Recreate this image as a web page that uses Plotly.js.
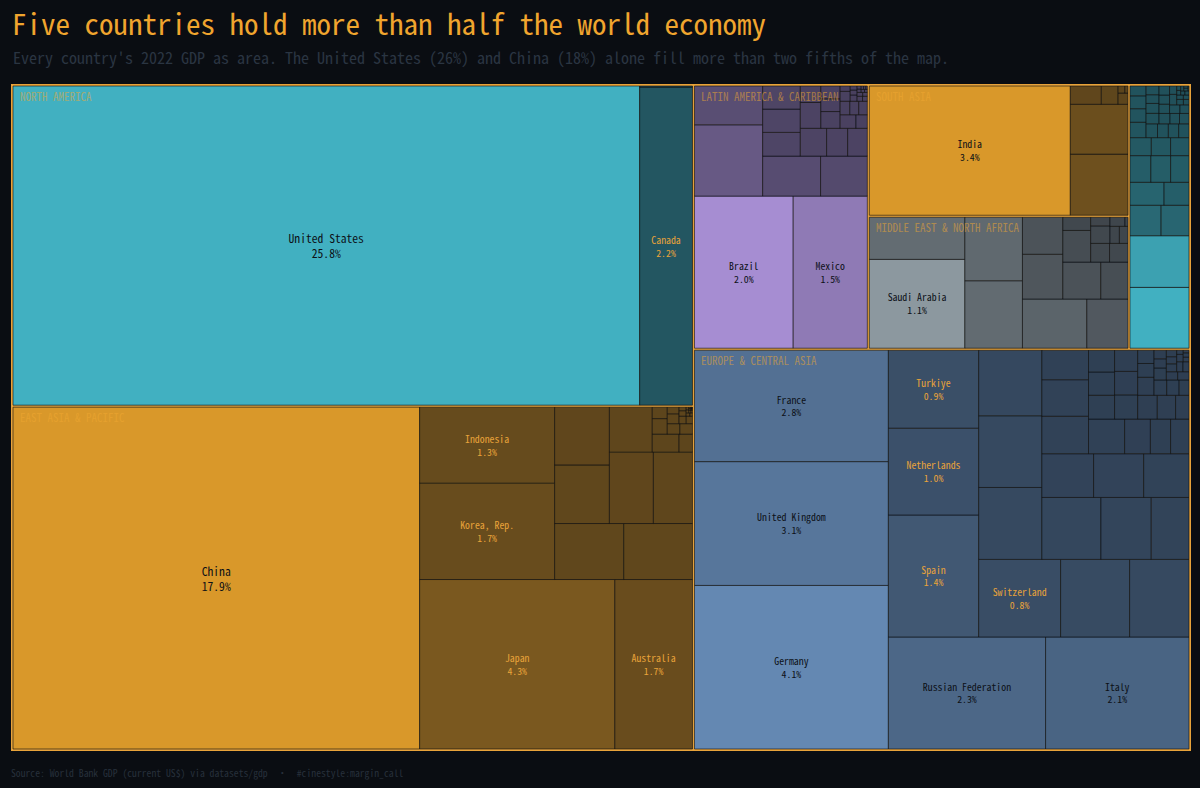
<!DOCTYPE html>
<html>
<head>
<meta charset="utf-8">
<script src="https://cdn.plot.ly/plotly-3.0.1.min.js"></script>
<style>
  html, body { margin: 0; padding: 0; background: #0a0d12; }
  #chart { width: 1200px; height: 788px; }
</style>
</head>
<body>
<div id="chart"></div>
<script>
// ---- DATA: 2022 GDP, current US$ billions (World Bank) ----
const regionNames = ["North America", "East Asia & Pacific", "Europe & Central Asia",
  "Latin America & Caribbean", "South Asia", "Middle East & North Africa", "Sub-Saharan Africa"];
const regionBase = ["#41b0c1", "#d9982a", "#6488b2", "#a68dd2", "#d9982a", "#8c989f", "#41b0c1"];

const naNames = ["United States", "Canada", "Bermuda"];
const naGdp = [25744, 2162, 7.5];

const eapNames = ["China", "Japan", "Australia", "Korea, Rep.", "Indonesia", "Singapore", "Thailand",
  "Viet Nam", "Malaysia", "Philippines", "Hong Kong SAR, China", "New Zealand", "Myanmar",
  "Papua New Guinea", "Cambodia", "Macao SAR, China", "Mongolia", "Brunei Darussalam", "Lao PDR",
  "New Caledonia", "Guam", "French Polynesia", "Fiji", "Timor-Leste", "Solomon Islands",
  "Northern Mariana Islands", "Vanuatu", "American Samoa", "Samoa", "Tonga",
  "Micronesia, Fed. Sts.", "Marshall Islands", "Palau", "Kiribati", "Nauru", "Tuvalu"];
const eapGdp = [17882, 4256, 1693, 1674, 1319, 498, 495, 413, 407, 404, 359, 248, 62, 31, 30, 22,
  17, 17, 15, 10, 6.9, 6, 5, 3.2, 1.6, 1.1, 1.0, 0.87, 0.83, 0.5, 0.43, 0.28, 0.23, 0.22, 0.15, 0.06];

const ecaNames = ["Germany", "United Kingdom", "France", "Russian Federation", "Italy", "Spain",
  "Netherlands", "Turkiye", "Switzerland", "Poland", "Norway", "Sweden", "Belgium", "Ireland",
  "Austria", "Denmark", "Romania", "Czechia", "Finland", "Portugal", "Kazakhstan", "Greece",
  "Hungary", "Ukraine", "Slovak Republic", "Bulgaria", "Luxembourg", "Uzbekistan", "Azerbaijan",
  "Belarus", "Croatia", "Lithuania", "Serbia", "Slovenia", "Turkmenistan", "Latvia", "Estonia",
  "Cyprus", "Iceland", "Georgia", "Bosnia and Herzegovina", "Armenia", "Albania", "Moldova",
  "North Macedonia", "Kyrgyz Republic", "Channel Islands", "Tajikistan", "Kosovo", "Monaco",
  "Isle of Man", "Liechtenstein", "Montenegro", "Faroe Islands", "Andorra", "Greenland", "San Marino"];
const ecaGdp = [4082, 3089, 2780, 2266, 2067, 1418, 1009, 906, 818, 689, 593, 585, 583, 533, 471,
  401, 301, 291, 282, 255, 225, 219, 177, 161, 115, 90, 82, 80, 78, 73, 72, 70, 63, 60, 56, 41, 38,
  29, 28, 25, 24.5, 19.5, 19, 14.5, 13.6, 12, 12, 10.5, 9.4, 8.6, 8.1, 7.7, 6.2, 3.5, 3.4, 3.2, 1.9];

const lacNames = ["Brazil", "Mexico", "Argentina", "Colombia", "Chile", "Peru", "Ecuador",
  "Dominican Republic", "Puerto Rico", "Guatemala", "Panama", "Uruguay", "Costa Rica", "Bolivia",
  "Paraguay", "El Salvador", "Honduras", "Trinidad and Tobago", "Haiti", "Jamaica", "Nicaragua",
  "Guyana", "Bahamas, The", "Cayman Islands", "Barbados", "Virgin Islands (U.S.)", "Suriname",
  "Aruba", "Curacao", "Belize", "St. Lucia", "Antigua and Barbuda", "Sint Maarten (Dutch part)",
  "Grenada", "Turks and Caicos Islands", "St. Kitts and Nevis", "St. Vincent and the Grenadines", "Dominica"];
const lacGdp = [1952, 1466, 632, 344, 301, 243, 116, 114, 113, 95, 76, 71, 69, 44, 42, 32, 32, 28,
  20, 17, 15.7, 15, 13, 7, 5.6, 4.4, 3.6, 3.5, 3.1, 2.8, 2.3, 1.8, 1.6, 1.3, 1.1, 1.05, 1.0, 0.65];

const sasNames = ["India", "Bangladesh", "Pakistan", "Sri Lanka", "Nepal", "Afghanistan", "Maldives", "Bhutan"];
const sasGdp = [3390, 460, 375, 74, 40, 14.5, 6.2, 2.9];

const menaNames = ["Saudi Arabia", "Israel", "United Arab Emirates", "Egypt, Arab Rep.",
  "Iran, Islamic Rep.", "Iraq", "Qatar", "Algeria", "Kuwait", "Morocco", "Oman", "Jordan",
  "Tunisia", "Libya", "Bahrain", "Lebanon", "Yemen, Rep.", "West Bank and Gaza", "Malta", "Djibouti"];
const menaGdp = [1108, 525, 507, 477, 413, 264, 236, 195, 183, 131, 115, 48, 46, 45, 44, 21.8, 21, 19.1, 17.8, 3.5];

const ssaNames = ["Nigeria", "South Africa", "Ethiopia", "Kenya", "Angola", "Tanzania", "Ghana",
  "Cote d'Ivoire", "Congo, Dem. Rep.", "Sudan", "Uganda", "Cameroon", "Zimbabwe", "Zambia",
  "Senegal", "Gabon", "Guinea", "Botswana", "Mali", "Burkina Faso", "Mozambique", "Benin",
  "Madagascar", "Niger", "Congo, Rep.", "Mauritius", "Rwanda", "Malawi", "Chad", "Namibia",
  "Equatorial Guinea", "Somalia", "Mauritania", "Togo", "Eswatini", "Liberia", "Sierra Leone",
  "Burundi", "Central African Republic", "Lesotho", "Cabo Verde", "Gambia, The", "Seychelles",
  "Guinea-Bissau", "Comoros", "Sao Tome and Principe"];
const ssaGdp = [477, 405, 126, 113, 104, 76, 74, 70, 65, 51, 46, 44, 33, 29, 27.6, 21, 21, 20, 19,
  19, 18, 17, 15, 15, 15, 13, 13, 13, 12.7, 12.6, 12, 10.4, 10, 8, 4.8, 4, 3.9, 3.3, 2.4, 2.3, 2.3,
  2.2, 2, 1.6, 1.2, 0.55];

const regionCountries = [naNames, eapNames, ecaNames, lacNames, sasNames, menaNames, ssaNames];
const regionGdp = [naGdp, eapGdp, ecaGdp, lacGdp, sasGdp, menaGdp, ssaGdp];

// ---- STYLE ----
const BG = "#0a0d12";
const GOLD = "#e8a33a";
const FONT = "'Noto Sans Mono CJK SC', 'DejaVu Sans Mono', monospace";
const REGION_FONT_SIZE = 11;

function hexToRgb(h) {
  h = h.replace('#', '');
  return [parseInt(h.slice(0, 2), 16), parseInt(h.slice(2, 4), 16), parseInt(h.slice(4, 6), 16)];
}
function mixBg(hex, a) {
  const c = hexToRgb(hex), b = hexToRgb(BG);
  const r = c.map((v, i) => Math.round(b[i] + a * (v - b[i])));
  return `rgb(${r[0]},${r[1]},${r[2]})`;
}

// ---- BUILD TREEMAP ----
const total = regionGdp.flat().reduce((s, v) => s + v, 0);
const ids = ["root"], labels = ["World"], parents = [""], values = [0], texts = [""];
const colors = [BG], lineColors = [BG], lineWidths = [0], textColors = [GOLD], textSizes = [10];
const regionIds = [];

regionNames.forEach((rn, ri) => {
  const rid = "R:" + rn;
  regionIds.push(rid);
  ids.push(rid); labels.push(rn.toUpperCase()); parents.push("root"); values.push(0); texts.push("");
  colors.push(GOLD); lineColors.push(GOLD); lineWidths.push(2); textColors.push(GOLD); textSizes.push(10);
  const names = regionCountries[ri], gdp = regionGdp[ri];
  const maxV = Math.max(...gdp);
  names.forEach((cn, ci) => {
    const v = gdp[ci];
    const a = 0.4 + 0.6 * (v / maxV);
    const share = v / total * 100;
    ids.push("C:" + cn); labels.push(cn); parents.push(rid); values.push(v);
    texts.push(share >= 0.75 ? `${cn}<br>${share.toFixed(1)}%` : "");
    colors.push(mixBg(regionBase[ri], a));
    lineColors.push("rgba(10,13,18,0.6)"); lineWidths.push(1);
    textColors.push(a > 0.65 ? "#0d1117" : GOLD);
    textSizes.push(share >= 10 ? 11.6 : 9.8);
  });
});

const trace = {
  type: "treemap",
  ids, labels, parents, values, text: texts,
  branchvalues: "remainder",
  sort: true,
  texttemplate: "%{text}",
  textposition: "middle center",
  textfont: { family: FONT, size: textSizes, color: textColors },
  hovertemplate: "%{label}<br>$%{value:,.0f}B<extra></extra>",
  marker: {
    colors, line: { color: lineColors, width: lineWidths },
    pad: { t: 1, l: 1, r: 1, b: 1 }
  },
  tiling: { packing: "squarify", squarifyratio: 1.12, flip: "y", pad: 0 },
  pathbar: { visible: false },
  root: { color: BG },
  leaf: { opacity: 1 }
};

const M = { l: 11, r: 9, t: 84, b: 37 };
const plotH = 788 - M.t - M.b;
const plotW = 1200 - M.l - M.r;

const baseAnnotations = [
  {
    text: "Every country's 2022 GDP as area. The United States (26%) and China (18%) alone fill more than two fifths of the map.",
    xref: "paper", yref: "paper", x: (11 - M.l) / plotW, y: (788 - M.b - 57) / plotH,
    xanchor: "left", yanchor: "middle", showarrow: false,
    font: { family: FONT, size: 16, color: "#2a3542" }
  },
  {
    text: "Source: World Bank GDP (current US$) via datasets/gdp  ·  #cinestyle:margin_call",
    xref: "paper", yref: "paper", x: (9 - M.l) / plotW, y: (788 - M.b - 773) / plotH,
    xanchor: "left", yanchor: "middle", showarrow: false,
    font: { family: FONT, size: 9.7, color: "#27303b" }
  }
];

const layout = {
  width: 1200, height: 788,
  paper_bgcolor: BG, plot_bgcolor: BG,
  margin: M,
  title: {
    text: "Five countries hold more than half the world economy",
    x: 12 / 1200, xref: "container", xanchor: "left",
    y: 1 - 25 / 788, yref: "container", yanchor: "middle",
    font: { family: FONT, size: 29, color: "#f0a52e" }
  },
  annotations: baseAnnotations,
  showlegend: false
};

function nodeId(d) {
  if (!d) return null;
  if (d.data && d.data.data && d.data.data.id !== undefined) return d.data.data.id;
  if (d.data && d.data.id !== undefined) return d.data.id;
  if (d.id !== undefined) return d.id;
  return null;
}

const gd = document.getElementById("chart");
Plotly.newPlot(gd, [trace], layout, { displayModeBar: false }).then(() => {
  const gRect = gd.getBoundingClientRect();
  const sz = gd._fullLayout._size;
  const regionAnns = [];
  gd.querySelectorAll("g.slice").forEach(el => {
    const id = nodeId(el.__data__);
    const ri = regionIds.indexOf(id);
    if (ri < 0) return;
    const p = el.querySelector("path");
    if (!p) return;
    const r = p.getBoundingClientRect();
    const label = regionNames[ri].toUpperCase();
    // only label a region when its name fits inside the tile (monospace ~0.5em per char)
    const estWidth = label.length * REGION_FONT_SIZE * 0.5;
    if (estWidth + 14 > r.width) return;
    const px = r.left - gRect.left, py = r.top - gRect.top;
    regionAnns.push({
      text: label,
      xref: "paper", yref: "paper",
      x: (px + 6 - sz.l) / sz.w, y: 1 - (py + 11 - sz.t) / sz.h,
      xanchor: "left", yanchor: "middle", showarrow: false,
      font: { family: FONT, size: REGION_FONT_SIZE, color: "rgba(240,168,50,0.55)" }
    });
  });
  return Plotly.relayout(gd, { annotations: baseAnnotations.concat(regionAnns) });
});
</script>
</body>
</html>
